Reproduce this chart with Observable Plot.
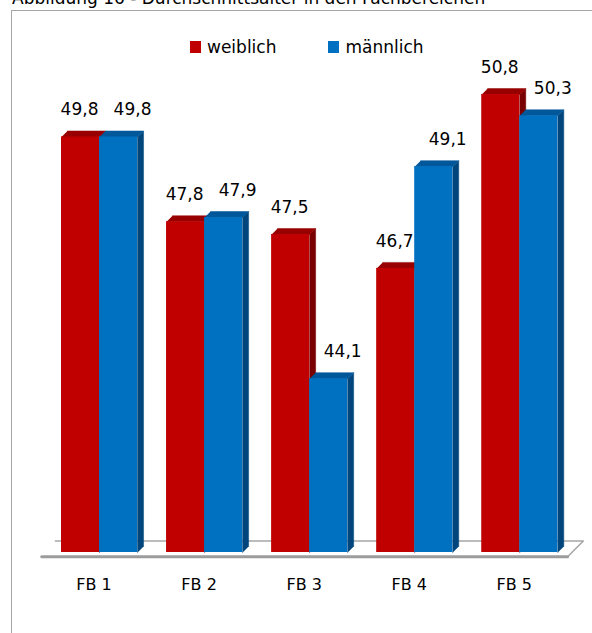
<!DOCTYPE html>
<html>
<head>
<meta charset="utf-8">
<script src="https://cdn.jsdelivr.net/npm/d3@7"></script>
<script src="https://cdn.jsdelivr.net/npm/@observablehq/plot@0.6"></script>
<style>
  body { margin: 0; background: #fff; }
  #wrap { position: relative; width: 592px; height: 633px; overflow: hidden; font-family: "DejaVu Sans", sans-serif; color: #000; }
  #title { position: absolute; left: 12px; top: -11px; font-size: 17px; line-height: 18px; white-space: nowrap; }
  #frame { position: absolute; left: 11px; top: 10px; width: 660px; height: 720px; border: 1px solid #a6a6a6; }
  #chart { position: absolute; left: 0; top: 0; }
  #legend { position: absolute; left: 190px; top: 30px; }
  .lg-swatch { margin-right: 52px !important; }
  .lg-swatch > svg { margin-right: 6px !important; }
</style>
</head>
<body>
<div id="wrap">
  <div id="title">Abbildung 16 - Durchschnittsalter in den Fachbereichen</div>
  <div id="frame"></div>
  <div id="chart"></div>
  <div id="legend"></div>
</div>
<script>
// Average age per department, by gender
const categories = ["FB 1", "FB 2", "FB 3", "FB 4", "FB 5"];
const weiblich = [49.8, 47.8, 47.5, 46.7, 50.8];
const maennlich = [49.8, 47.9, 44.1, 49.1, 50.3];
const seriesNames = ["weiblich", "männlich"];
const seriesColors = ["#c00000", "#0070c0"];
const topColors = ["#980000", "#00579a"];
const sideColors = ["#7a0000", "#00467c"];

// Value axis starts at 40 (the floor of the 3D chart)
const yMin = 40, yMax = 52;
const barW = 0.362;          // bar width in category units
const depthX = 0.057;        // 3D depth, horizontal (category units)
const depthY = 0.142;        // 3D depth, vertical (value units)

const fmt = d3.formatLocale({decimal: ",", thousands: ".", grouping: [3], currency: ["", " €"]}).format(".1f");

const seriesValues = [weiblich, maennlich];
const rows = [];
seriesValues.forEach((vals, s) => {
  vals.forEach((v, i) => {
    const x0 = i + 0.5 + (s - 1) * barW;
    rows.push({cat: categories[i], i, s, series: seriesNames[s], value: v, x0, x1: x0 + barW});
  });
});

// Side and top faces of each bar as filled polygons
function sidePts(r) {
  return [
    [r.x1, yMin], [r.x1, r.value], [r.x1 + depthX, r.value + depthY], [r.x1 + depthX, yMin + depthY]
  ].map(([x, y]) => ({id: r.cat + r.s, x, y}));
}
function topPts(r) {
  return [
    [r.x0, r.value], [r.x1, r.value], [r.x1 + depthX, r.value + depthY], [r.x0 + depthX, r.value + depthY]
  ].map(([x, y]) => ({id: r.cat + r.s, x, y}));
}

// Floor slab under the bars
const n = categories.length;
const floor = [
  {x: -0.05, y: yMin - 0.1},
  {x: n - 0.045, y: yMin - 0.1},
  {x: n + 0.105, y: yMin + 0.27},
  {x: 0.08, y: yMin + 0.27}
];
const floorFront = floor.slice(0, 2);

const barMarks = [];
[0, 1].forEach(s => {
  const rs = rows.filter(r => r.s === s);
  barMarks.push(
    Plot.line(rs.flatMap(sidePts), {x: "x", y: "y", z: "id", fill: sideColors[s], stroke: sideColors[s], strokeWidth: 0.5}),
    Plot.line(rs.flatMap(topPts), {x: "x", y: "y", z: "id", fill: topColors[s], stroke: topColors[s], strokeWidth: 0.5}),
    Plot.rect(rs, {x1: "x0", x2: "x1", y1: yMin, y2: "value", fill: seriesColors[s]})
  );
});

const labelDx = [-1, 14];

const chart = Plot.plot({
  width: 592,
  height: 633,
  margin: 0,
  style: {fontFamily: "DejaVu Sans, sans-serif", background: "transparent", color: "#000"},
  x: {type: "linear", domain: [0, n], range: [46.5, 571.8], axis: null},
  y: {domain: [yMin, yMax], range: [552, 43.2], axis: null},
  marks: [
    Plot.line(floor, {x: "x", y: "y", fill: "#ffffff", stroke: "#a6a6a6", strokeWidth: 1.5}),
    Plot.line(floorFront, {x: "x", y: "y", stroke: "#9c9c9c", strokeWidth: 3}),
    ...barMarks,
    ...[0, 1].map(s => Plot.text(rows.filter(r => r.s === s), {
      x: r => (r.x0 + r.x1) / 2, y: "value", text: r => fmt(r.value),
      dx: labelDx[s], dy: -27, fontSize: 17, fill: "#000"
    })),
    Plot.text(categories, {x: (d, i) => i + 0.5, y: yMin, text: d => d, dx: -5.5, dy: 32, fontSize: 16, fill: "#000"})
  ]
});
document.getElementById("chart").appendChild(chart);

const legend = Plot.legend({
  color: {domain: seriesNames, range: seriesColors},
  swatchWidth: 11,
  swatchHeight: 12,
  className: "lg",
  style: {fontSize: "17px", fontFamily: "DejaVu Sans, sans-serif", color: "#000"}
});
document.getElementById("legend").appendChild(legend);
</script>
</body>
</html>
